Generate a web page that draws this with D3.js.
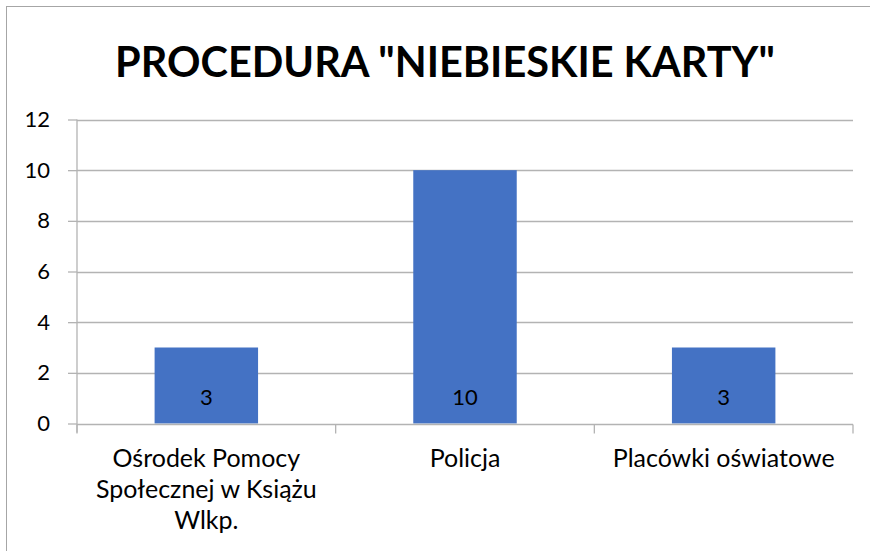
<!DOCTYPE html>
<html>
<head>
<meta charset="utf-8">
<script src="https://cdn.jsdelivr.net/npm/d3@7"></script>
<style>
  html, body { margin: 0; padding: 0; background: #fff; }
  svg { display: block; }
  text { font-family: Lato, "Open Sans", sans-serif; fill: #000; }
</style>
</head>
<body>
<svg id="chart" width="870" height="551"></svg>
<script>
const title = 'PROCEDURA "NIEBIESKIE KARTY"';
const categories = ["Ośrodek Pomocy Społecznej w Książu Wlkp.", "Policja", "Placówki oświatowe"];
const values = [3, 10, 3];
const yTicks = [0, 2, 4, 6, 8, 10, 12];

const W = 870, H = 551;
const margin = { left: 77, right: 17, top: 119.5, bottom: 127.5 };
const svg = d3.select("#chart");

// chart border (extends past the viewport on right/bottom)
svg.append("rect").attr("x", 6.5).attr("y", 6.5).attr("width", 878).attr("height", 560)
  .attr("fill", "none").attr("stroke", "#a6a6a6").attr("stroke-width", 1);

const x = d3.scaleBand().domain(categories).range([margin.left, W - margin.right]).padding(0);
const y = d3.scaleLinear().domain([0, 12]).range([H - margin.bottom, margin.top]);

function fitSize(text, target, weight) {
  const t = svg.append("text").attr("font-size", 100).attr("font-weight", weight).text(text);
  const w = t.node().getComputedTextLength();
  t.remove();
  return 100 * target / w;
}

// gridlines
const gridColor = "#b3b3b3";
svg.append("g").selectAll("line").data(yTicks.filter(d => d > 0)).join("line")
  .attr("x1", margin.left).attr("x2", W - margin.right)
  .attr("y1", d => Math.round(y(d)) + 0.5).attr("y2", d => Math.round(y(d)) + 0.5)
  .attr("stroke", gridColor).attr("stroke-width", 1.3);

// y axis
const tickSize = 22;
const yAxis = d3.axisLeft(y).tickValues(yTicks).tickSize(9).tickPadding(18).tickFormat(d3.format("d"));
const gy = svg.append("g").attr("transform", `translate(${margin.left},0)`).call(yAxis);
gy.attr("font-size", tickSize).attr("font-family", null);
gy.select(".domain").attr("stroke", gridColor).attr("stroke-width", 1.3).attr("d", `M0,${y(12)}V${y(0) + 9}`);
gy.selectAll(".tick line").attr("stroke", gridColor).attr("stroke-width", 1.3);
gy.selectAll(".tick text").style("font-size", tickSize + "px").attr("fill", "#000");

// bars
const barW = x.bandwidth() * 0.4;
svg.append("g").selectAll("rect").data(values).join("rect")
  .attr("x", (d, i) => x(categories[i]) + (x.bandwidth() - barW) / 2)
  .attr("width", barW)
  .attr("y", d => y(d))
  .attr("height", d => y(0) - y(d))
  .attr("fill", "#4472c4");

// x axis line + ticks
const xBase = Math.round(y(0)) + 0.5;
const bounds = categories.map(c => x(c)).concat([x(categories[categories.length - 1]) + x.bandwidth()]);
svg.append("line").attr("x1", margin.left).attr("x2", W - margin.right).attr("y1", xBase).attr("y2", xBase)
  .attr("stroke", gridColor).attr("stroke-width", 1.3);
svg.append("g").selectAll("line").data(bounds).join("line")
  .attr("x1", d => d).attr("x2", d => d).attr("y1", xBase).attr("y2", xBase + 9)
  .attr("stroke", gridColor).attr("stroke-width", 1.3);

// value labels
svg.append("g").selectAll("text").data(values).join("text")
  .attr("x", (d, i) => x(categories[i]) + x.bandwidth() / 2)
  .attr("y", y(0) - 19)
  .attr("text-anchor", "middle")
  .style("font-size", tickSize + "px")
  .text(d => d);

// category labels with wrapping
const catSize = fitSize("Placówki oświatowe", 222, 400);
function wrap(text, maxW) {
  const words = text.split(" ");
  const lines = [];
  let cur = "";
  const t = svg.append("text").attr("font-size", catSize);
  words.forEach(w => {
    const test = cur ? cur + " " + w : w;
    t.text(test);
    if (t.node().getComputedTextLength() > maxW && cur) { lines.push(cur); cur = w; }
    else cur = test;
  });
  if (cur) lines.push(cur);
  t.remove();
  return lines;
}
categories.forEach(c => {
  const lines = wrap(c, 240);
  const t = svg.append("text").attr("text-anchor", "middle").attr("font-size", catSize)
    .attr("x", x(c) + x.bandwidth() / 2).attr("y", 467);
  lines.forEach((l, i) => t.append("tspan").attr("x", x(c) + x.bandwidth() / 2).attr("dy", i === 0 ? 0 : 31).text(l));
});

// title
const titleSize = fitSize(title, 660, 700);
svg.append("text").attr("x", 445).attr("y", 77).attr("text-anchor", "middle")
  .attr("font-weight", 700).attr("font-size", titleSize).text(title);
</script>
</body>
</html>
